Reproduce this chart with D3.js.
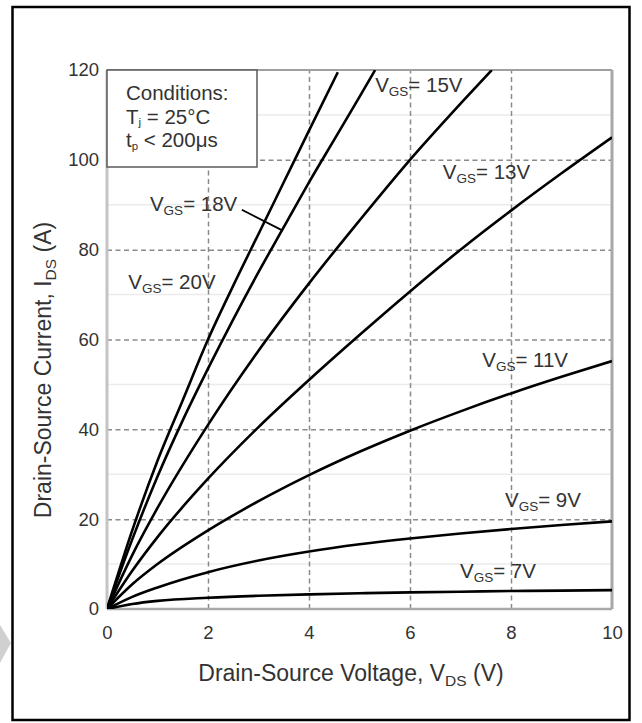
<!DOCTYPE html>
<html><head><meta charset="utf-8">
<script src="https://cdn.jsdelivr.net/npm/d3@7/dist/d3.min.js"></script>
<style>
body{margin:0;background:#fff}
text{font-family:"Liberation Sans",Arial,sans-serif;fill:#333}
</style></head><body>
<script>
// ---- data ----
const xTicks = [0, 2, 4, 6, 8, 10];
const yTicks = [0, 20, 40, 60, 80, 100, 120];
const yMinor = [10, 30, 50, 70, 90, 110];

const vds20 = [0, 0.5, 1, 1.5, 2, 2.5, 3, 3.5, 4, 4.57];
const ids20 = [0, 17.5, 33, 46.5, 60, 72, 83.5, 95, 106.5, 119.5];
const vds18 = [0, 0.5, 1, 1.5, 2, 2.5, 3, 3.5, 4, 4.5, 5, 5.31];
const ids18 = [0, 15.5, 29.5, 42, 53.5, 64.5, 75, 85, 95, 104.5, 114, 120];
const vds15 = [0, 0.5, 1, 2, 3, 4, 5, 6, 7, 7.62];
const ids15 = [0, 12, 22.5, 41, 57.5, 72.5, 86.5, 100, 112.5, 120];
const vds13 = [0, 0.5, 1, 2, 3, 4, 5, 6, 7, 8, 9, 10];
const ids13 = [0, 8.5, 16, 29, 40.5, 51, 61, 70.7, 80, 88.7, 97, 105];
const vds11 = [0, 0.5, 1, 2, 3, 4, 5, 6, 7, 8, 9, 10];
const ids11 = [0, 5.5, 10, 17.5, 24, 29.8, 35, 39.7, 44, 48, 51.7, 55.2];
const vds9 = [0, 0.5, 1, 2, 3, 4, 5, 6, 7, 8, 9, 10];
const ids9 = [0, 2.7, 4.8, 8.2, 10.8, 12.8, 14.4, 15.7, 16.8, 17.8, 18.7, 19.5];
const vds7 = [0, 0.5, 1, 2, 3, 4, 5, 6, 7, 8, 9, 10];
const ids7 = [0, 1.1, 1.8, 2.5, 2.95, 3.25, 3.5, 3.7, 3.85, 4.0, 4.1, 4.2];

const seriesNames = ["20V", "18V", "15V", "13V", "11V", "9V", "7V"];
// label anchors in data units (VDS, IDS)
const labelVds = [0.42, 0.85, 5.31, 6.65, 7.43, 7.88, 6.99];
const labelIds = [71.2, 88.6, 115.1, 95.7, 53.8, 22.8, 6.9];
const leaderFrom = [2.67, 88.9];
const leaderTo = [3.47, 84.3];

const conditions = [["Conditions:", "", ""], ["T", "j", " = 25°C"], ["t", "p", " < 200μs"]];

// ---- drawing ----
const W = 642, H = 723;
const svg = d3.select("body").append("svg").attr("width", W).attr("height", H);

const x = d3.scaleLinear().domain([0, 10]).range([107, 612]);
const y = d3.scaleLinear().domain([0, 120]).range([609, 70]);

// watermark triangle & frame
svg.append("path").attr("d", "M0,625 L11,643 L0,663 Z").attr("fill", "#d0d0d0");
svg.append("rect").attr("x", 12.5).attr("y", 7).attr("width", 617).attr("height", 713)
  .attr("fill", "none").attr("stroke", "#000").attr("stroke-width", 2.5);

// minor gridlines
svg.append("g").selectAll("line").data(yMinor).join("line")
  .attr("x1", x(0)).attr("x2", x(10)).attr("y1", d => y(d)).attr("y2", d => y(d))
  .attr("stroke", "#ebebeb").attr("stroke-width", 1.5);

// major dashed gridlines
const gx = d3.axisBottom(x).tickValues(xTicks.slice(1, -1)).tickSize(-(y(0) - y(120))).tickFormat("");
svg.append("g").attr("transform", `translate(0,${y(0)})`).call(gx)
  .call(g => g.select(".domain").remove())
  .selectAll("line").attr("stroke", "#8a8a8a").attr("stroke-width", 1.5).attr("stroke-dasharray", "5,3.5");
const gy = d3.axisLeft(y).tickValues(yTicks.slice(1, -1)).tickSize(-(x(10) - x(0))).tickFormat("");
svg.append("g").attr("transform", `translate(${x(0)},0)`).call(gy)
  .call(g => g.select(".domain").remove())
  .selectAll("line").attr("stroke", "#8a8a8a").attr("stroke-width", 1.5).attr("stroke-dasharray", "5,3.5");

// plot border
svg.append("line").attr("x1", x(0)).attr("x2", x(10)).attr("y1", y(120)).attr("y2", y(120)).attr("stroke", "#a0a0a0").attr("stroke-width", 2);
svg.append("line").attr("x1", x(10)).attr("x2", x(10)).attr("y1", y(120)).attr("y2", y(0)).attr("stroke", "#a8a8a8").attr("stroke-width", 3);
svg.append("line").attr("x1", x(0)).attr("x2", x(0)).attr("y1", y(120)).attr("y2", y(0)).attr("stroke", "#c4c4c4").attr("stroke-width", 3);
svg.append("line").attr("x1", x(0)).attr("x2", x(10)).attr("y1", y(0)).attr("y2", y(0)).attr("stroke", "#a8a8a8").attr("stroke-width", 2.5);

// tick labels via axes
const ax = svg.append("g").attr("transform", `translate(0,${y(0)})`)
  .call(d3.axisBottom(x).tickValues(xTicks).tickSize(0).tickPadding(17));
ax.select(".domain").remove();
ax.selectAll("text").attr("font-size", 18.5).attr("fill", "#333").style("font-family", "'Liberation Sans',Arial,sans-serif");
const ay = svg.append("g").attr("transform", `translate(${x(0)},0)`)
  .call(d3.axisLeft(y).tickValues(yTicks).tickSize(0).tickPadding(8));
ay.select(".domain").remove();
ay.selectAll("text").attr("font-size", 18.5).attr("fill", "#333").style("font-family", "'Liberation Sans',Arial,sans-serif");

// curves
svg.append("clipPath").attr("id", "clip").append("rect")
  .attr("x", x(0)).attr("y", y(120)).attr("width", x(10) - x(0)).attr("height", y(0) - y(120));
const line = d3.line().x(d => x(d[0])).y(d => y(d[1])).curve(d3.curveMonotoneX);
const seriesData = [
  d3.zip(vds20, ids20), d3.zip(vds18, ids18), d3.zip(vds15, ids15), d3.zip(vds13, ids13),
  d3.zip(vds11, ids11), d3.zip(vds9, ids9), d3.zip(vds7, ids7)
];
svg.append("g").attr("clip-path", "url(#clip)").selectAll("path").data(seriesData).join("path")
  .attr("d", line).attr("fill", "none").attr("stroke", "#000").attr("stroke-width", 2.6);

// conditions box
svg.append("rect").attr("x", x(0)).attr("y", y(120)).attr("width", 150).attr("height", 97)
  .attr("fill", "#fff").attr("stroke", "#5a5a5a").attr("stroke-width", 1.5);
conditions.forEach((c, i) => {
  const t = svg.append("text").attr("x", 126).attr("y", 100 + i * 23.5).attr("font-size", 20.5);
  t.append("tspan").text(c[0]);
  if (c[1]) {
    t.append("tspan").attr("font-size", 11.5).attr("dy", 2.5).text(c[1]);
    t.append("tspan").attr("dy", -2.5).text(c[2]);
  }
});

// VGS labels
seriesNames.forEach((n, i) => {
  const t = svg.append("text").attr("x", x(labelVds[i])).attr("y", y(labelIds[i])).attr("font-size", 20.5);
  t.append("tspan").text("V");
  t.append("tspan").attr("font-size", 13.5).attr("dy", 4).text("GS");
  t.append("tspan").attr("dy", -4).text("= " + n);
});
svg.append("line").attr("x1", x(leaderFrom[0])).attr("y1", y(leaderFrom[1]))
  .attr("x2", x(leaderTo[0])).attr("y2", y(leaderTo[1])).attr("stroke", "#000").attr("stroke-width", 1.8);

// axis titles
const xt = svg.append("text").attr("x", 351).attr("y", 681).attr("text-anchor", "middle").attr("font-size", 23);
xt.append("tspan").text("Drain-Source Voltage, V");
xt.append("tspan").attr("font-size", 15.5).attr("dy", 5).text("DS");
xt.append("tspan").attr("dy", -5).text(" (V)");
const yt = svg.append("text").attr("transform", "translate(51,370) rotate(-90)").attr("text-anchor", "middle").attr("font-size", 23);
yt.append("tspan").text("Drain-Source Current, I");
yt.append("tspan").attr("font-size", 15.5).attr("dy", 5).text("DS");
yt.append("tspan").attr("dy", -5).text(" (A)");
</script>
</body></html>
